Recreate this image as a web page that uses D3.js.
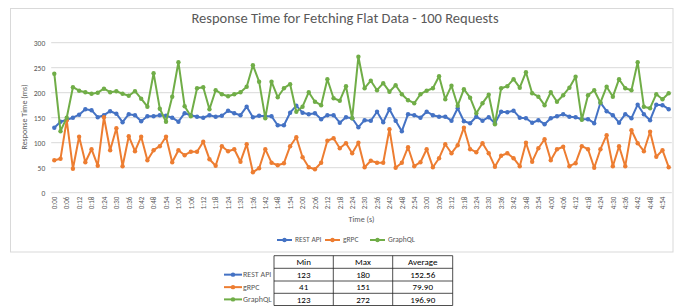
<!DOCTYPE html>
<html><head><meta charset="utf-8">
<script src="https://cdn.jsdelivr.net/npm/d3@7"></script>
<style>body{margin:0;background:#fff}svg{display:block}text{font-family:Carlito,Lato,"Open Sans",sans-serif}</style>
</head><body>
<svg id="c" width="687" height="306"></svg>
<script>
const title = "Response Time for Fetching Flat Data - 100 Requests";
const categories = ["0:00","0:03","0:06","0:09","0:12","0:15","0:18","0:21","0:24","0:27","0:30","0:33","0:36","0:39","0:42","0:45","0:48","0:51","0:54","0:57",
"1:00","1:03","1:06","1:09","1:12","1:15","1:18","1:21","1:24","1:27","1:30","1:33","1:36","1:39","1:42","1:45","1:48","1:51","1:54","1:57",
"2:00","2:03","2:06","2:09","2:12","2:15","2:18","2:21","2:24","2:27","2:30","2:33","2:36","2:39","2:42","2:45","2:48","2:51","2:54","2:57",
"3:00","3:03","3:06","3:09","3:12","3:15","3:18","3:21","3:24","3:27","3:30","3:33","3:36","3:39","3:42","3:45","3:48","3:51","3:54","3:57",
"4:00","4:03","4:06","4:09","4:12","4:15","4:18","4:21","4:24","4:27","4:30","4:33","4:36","4:39","4:42","4:45","4:48","4:51","4:54","4:57"];
const tickLabels = ["0:00","0:06","0:12","0:18","0:24","0:30","0:36","0:42","0:48","0:54","1:00","1:06","1:12","1:18","1:24","1:30","1:36","1:42","1:48","1:54",
"2:00","2:06","2:12","2:18","2:24","2:30","2:36","2:42","2:48","2:54","3:00","3:06","3:12","3:18","3:24","3:30","3:36","3:42","3:48","3:54",
"4:00","4:06","4:12","4:18","4:24","4:30","4:36","4:42","4:48","4:54"];
const restApi = [130,142,146,150,156,167,165,151,155,163,158,141,157,155,143,153,153,155,154,150,
142,159,155,152,150,155,152,154,164,159,155,172,151,154,153,153,135,135,160,174,
160,157,159,147,155,155,140,151,149,131,145,144,162,141,167,144,123,157,155,150,
162,155,152,152,144,169,143,139,152,144,151,139,162,161,164,150,149,140,145,137,
149,153,157,152,151,147,147,139,180,163,155,140,157,149,176,157,145,176,175,167];
const grpc = [65,68,145,48,112,61,87,54,151,85,129,53,113,83,112,65,85,93,112,61,
85,75,82,82,102,67,54,93,83,87,62,97,41,49,87,60,55,59,93,111,
71,51,47,60,104,109,89,99,79,100,51,64,60,60,127,50,60,91,53,61,
87,51,69,97,79,95,130,87,81,99,79,52,74,79,69,53,100,62,89,107,
65,87,92,53,59,93,87,50,87,115,53,93,53,125,99,83,122,72,85,51];
const graphql = [238,123,150,211,204,201,198,200,208,201,203,198,194,203,188,172,239,168,142,192,
261,173,153,209,211,167,205,197,193,197,201,212,255,222,149,222,191,209,217,162,
172,201,182,175,227,189,184,213,149,272,209,224,205,219,202,215,197,185,179,197,
204,209,233,187,214,174,207,190,159,179,196,137,209,213,227,210,241,199,192,175,
201,182,195,210,232,146,195,205,180,212,192,227,209,205,261,172,169,197,187,199];
const seriesNames = ["REST API","gRPC","GraphQL"];
const seriesColors = ["#4472C4","#ED7D31","#70AD47"];
const yTicks = [0,50,100,150,200,250,300];
const tableHeader = ["Min","Max","Average"];
const tableMin = ["123","41","123"];
const tableMax = ["180","151","272"];
const tableAvg = ["152.56","79.90","196.90"];

const svg = d3.select("#c");
const seriesData = [restApi, grpc, graphql];

// frame
svg.append("rect").attr("x",10.5).attr("y",8.5).attr("width",662.5).attr("height",243.5)
  .attr("fill","none").attr("stroke","#d9d9d9");

const x = d3.scaleBand().domain(categories).range([51.2,671.8]).paddingInner(0).paddingOuter(0);
const cx = c => x(c) + x.bandwidth()/2;
const y = d3.scaleLinear().domain([0,300]).range([192.7,42.7]);

// gridlines
svg.append("g").selectAll("line").data(yTicks).join("line")
  .attr("x1",51.2).attr("x2",671.8).attr("y1",d=>y(d)).attr("y2",d=>y(d))
  .attr("stroke","#d9d9d9").attr("stroke-width",1);

// y axis
const yAxis = svg.append("g").attr("transform","translate(51.2,0)")
  .call(d3.axisLeft(y).tickValues(yTicks).tickSize(0).tickPadding(6));
yAxis.select(".domain").remove();
yAxis.selectAll("text").attr("fill","#595959").style("font-size","7.5px").style("font-family","Carlito,Lato,sans-serif");

// x axis
const xAxis = svg.append("g").attr("transform","translate(0,192.7)")
  .call(d3.axisBottom(d3.scalePoint().domain(categories).range([cx(categories[0]), cx(categories[categories.length-1])]))
    .tickValues(tickLabels).tickSize(0).tickPadding(0));
xAxis.select(".domain").remove();
xAxis.selectAll("text").attr("fill","#595959").style("font-size","7px").style("font-family","Carlito,Lato,sans-serif")
  .attr("transform","rotate(-90)").attr("text-anchor","end").attr("x",-4).attr("y",0).attr("dy","0.32em");

// axis titles
svg.append("text").attr("transform","translate(27,117) rotate(-90)").attr("text-anchor","middle")
  .attr("fill","#595959").style("font-size","8px").text("Response Time (ms)");
svg.append("text").attr("x",361.5).attr("y",222).attr("text-anchor","middle")
  .attr("fill","#595959").style("font-size","8px").text("Time (s)");

// title
svg.append("text").attr("x",345).attr("y",23).attr("text-anchor","middle")
  .attr("fill","#595959").style("font-size","14.5px").text(title);

// series
const line = d3.line().x((d,i)=>cx(categories[i])).y(d=>y(d));
seriesData.forEach((data,k)=>{
  const g = svg.append("g");
  g.append("path").datum(data).attr("d",line).attr("fill","none")
    .attr("stroke",seriesColors[k]).attr("stroke-width",2).attr("stroke-linejoin","round");
  g.selectAll("circle").data(data).join("circle")
    .attr("cx",(d,i)=>cx(categories[i])).attr("cy",d=>y(d)).attr("r",2.2).attr("fill",seriesColors[k]);
});

// legend
const legX = [277,325,370];
seriesNames.forEach((n,k)=>{
  const g = svg.append("g").attr("transform",`translate(${legX[k]},240)`);
  g.append("line").attr("x1",0).attr("x2",15).attr("stroke",seriesColors[k]).attr("stroke-width",2);
  g.append("circle").attr("cx",7.5).attr("r",2.2).attr("fill",seriesColors[k]);
  g.append("text").attr("x",18).attr("dy","0.32em").attr("fill","#595959").style("font-size","7.5px").text(n);
});

// table
const colX = [274,333.3,392.7,452.7];
const rowY = [255.7,268.3,281,293.3,305.5];
const tg = svg.append("g");
// header
tableHeader.forEach((h,j)=>{
  tg.append("text").attr("x",(colX[j]+colX[j+1])/2).attr("y",(rowY[0]+rowY[1])/2).attr("dy","0.35em")
    .attr("text-anchor","middle").attr("fill","#000").style("font-size","9px").text(h);
});
const rows = [tableMin,tableMax,tableAvg];
seriesNames.forEach((n,r)=>{
  const ym = (rowY[r+1]+rowY[r+2])/2;
  [tableMin[r],tableMax[r],tableAvg[r]].forEach((v,j)=>{
    tg.append("text").attr("x",(colX[j]+colX[j+1])/2).attr("y",ym).attr("dy","0.35em")
      .attr("text-anchor","middle").attr("fill","#000").style("font-size","9px").text(v);
  });
  tg.append("line").attr("x1",224).attr("x2",242).attr("y1",ym).attr("y2",ym).attr("stroke",seriesColors[r]).attr("stroke-width",2);
  tg.append("circle").attr("cx",233).attr("cy",ym).attr("r",2.2).attr("fill",seriesColors[r]);
  tg.append("text").attr("x",243).attr("y",ym).attr("dy","0.35em").attr("fill","#595959").style("font-size","8px").text(n);
});
// grid lines
rowY.forEach(yy=>tg.append("line").attr("x1",colX[0]).attr("x2",colX[3]).attr("y1",yy).attr("y2",yy).attr("stroke","#222").attr("stroke-width",0.8));
colX.forEach(xx=>tg.append("line").attr("x1",xx).attr("x2",xx).attr("y1",rowY[0]).attr("y2",rowY[4]).attr("stroke","#222").attr("stroke-width",0.8));
</script>
</body></html>
